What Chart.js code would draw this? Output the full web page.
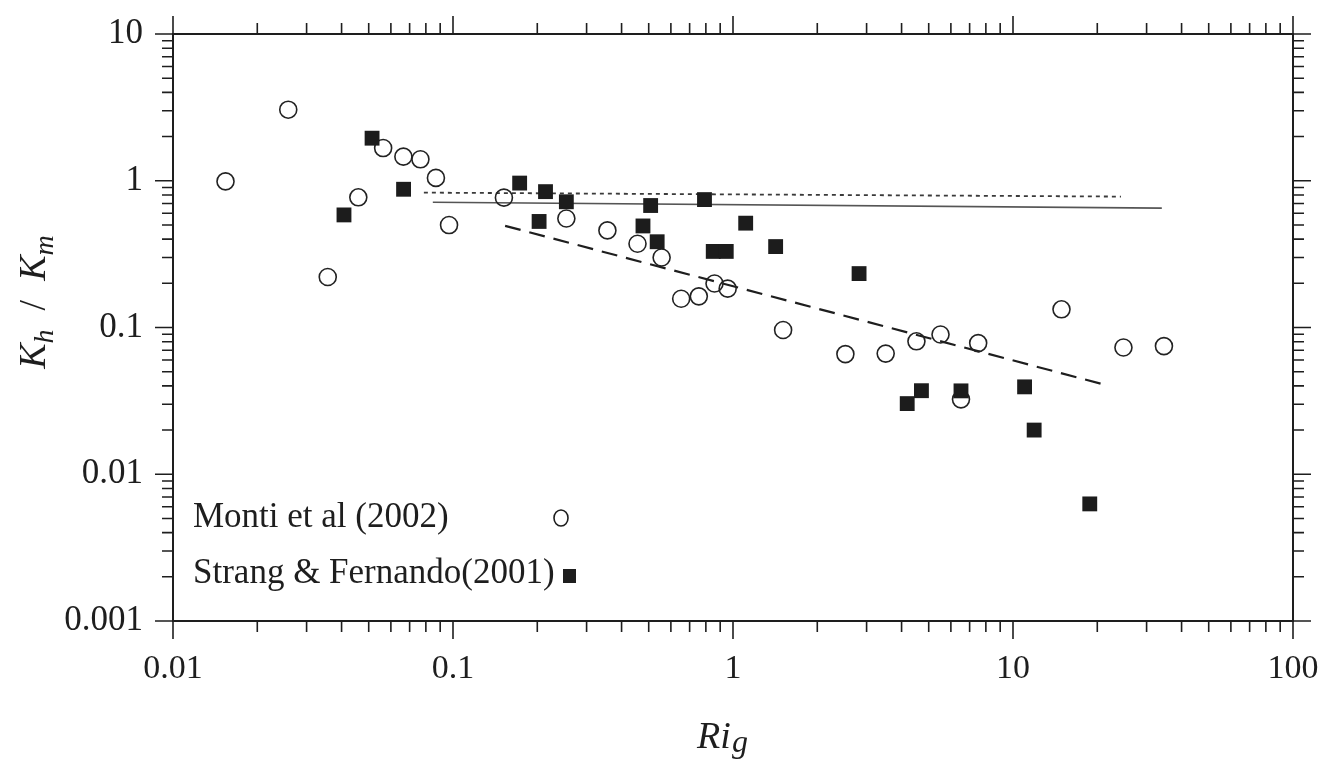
<!DOCTYPE html>
<html lang="en">
<head>
<meta charset="UTF-8">
<title>Kh/Km versus Rig</title>
<script src="https://cdn.jsdelivr.net/npm/chart.js@4.4.1/dist/chart.umd.min.js"></script>
<style>
    html, body { margin: 0; padding: 0; background: #fff; }
    #wrap { width: 1319px; height: 760px; }
</style>
</head>
<body>
<div id="wrap"><canvas id="chart" width="1319" height="760"></canvas></div>
<script>
// Monti et al (2002) - open circles
const montiRi = [0.0154, 0.0258, 0.0357, 0.0459, 0.0563, 0.0665, 0.0765, 0.0869, 0.0968, 0.152,
                 0.254, 0.356, 0.456, 0.556, 0.653, 0.755, 0.859, 0.957, 1.51, 2.52,
                 3.51, 4.52, 5.51, 7.51, 6.52, 14.9, 24.8, 34.6];
const montiK  = [0.99, 3.05, 0.221, 0.771, 1.67, 1.46, 1.40, 1.046, 0.499, 0.767,
                 0.553, 0.459, 0.372, 0.300, 0.157, 0.163, 0.1995, 0.184, 0.0962, 0.0659,
                 0.0664, 0.0805, 0.0896, 0.0783, 0.0324, 0.133, 0.0731, 0.0747];

// Strang & Fernando (2001) - filled squares
const strangRi = [0.0408, 0.0514, 0.0666, 0.173, 0.203, 0.214, 0.254, 0.477, 0.508, 0.536,
                  0.791, 0.850, 0.946, 1.11, 1.42, 2.82, 4.19, 4.71, 6.52, 11.0, 11.9, 18.8];
const strangK  = [0.585, 1.95, 0.875, 0.964, 0.528, 0.843, 0.719, 0.492, 0.678, 0.384,
                  0.744, 0.330, 0.330, 0.514, 0.356, 0.233, 0.0303, 0.0371, 0.0370, 0.0394, 0.0200, 0.00628];

// fitted lines (end points)
const dottedRi = [0.0787, 24.3];
const dottedK  = [0.830, 0.780];
const solidRi  = [0.0847, 34.0];
const solidK   = [0.714, 0.651];
const dashedRi = [0.1535, 20.6];
const dashedK  = [0.493, 0.0414];

// axis ticks
const xTickValues = [0.01, 0.1, 1, 10, 100];
const xTickLabels = ['0.01', '0.1', '1', '10', '100'];
const yTickValues = [0.001, 0.01, 0.1, 1, 10];
const yTickLabels = ['0.001', '0.01', '0.1', '1', '10'];

const serif = '"Liberation Serif", "Times New Roman", serif';
const ink = '#1e1e1e';

function pts(xs, ys) {
    return xs.map((x, i) => ({ x: x, y: ys[i] }));
}

// box around the plot plus outward log ticks on all four sides
const frame = {
    id: 'frame',
    afterDraw(chart) {
        const ctx = chart.ctx;
        const a = chart.chartArea;
        const sx = chart.scales.x, sy = chart.scales.y;
        ctx.save();
        ctx.strokeStyle = ink;
        ctx.lineWidth = 2;
        ctx.strokeRect(a.left, a.top, a.right - a.left, a.bottom - a.top);
        ctx.lineWidth = 1.6;
        ctx.beginPath();
        const decs = (s) => {
            const out = [];
            const lo = Math.round(Math.log10(s.min)), hi = Math.round(Math.log10(s.max));
            for (let e = lo; e <= hi; e++) {
                for (let m = 1; m <= 9; m++) {
                    const v = m * Math.pow(10, e);
                    if (v > s.max * 1.0001) break;
                    out.push({ v: v, len: m === 1 ? 18 : 11 });
                }
            }
            return out;
        };
        decs(sx).forEach(t => {
            const px = sx.getPixelForValue(t.v);
            ctx.moveTo(px, a.bottom); ctx.lineTo(px, a.bottom + t.len);
            ctx.moveTo(px, a.top); ctx.lineTo(px, a.top - t.len);
        });
        decs(sy).forEach(t => {
            const py = sy.getPixelForValue(t.v);
            ctx.moveTo(a.left, py); ctx.lineTo(a.left - t.len, py);
            ctx.moveTo(a.right, py); ctx.lineTo(a.right + t.len, py);
        });
        ctx.stroke();
        ctx.restore();
    }
};

// axis titles with subscripts and the in-plot legend
const labels = {
    id: 'labels',
    afterDraw(chart) {
        const ctx = chart.ctx;
        ctx.save();
        ctx.fillStyle = ink;
        ctx.strokeStyle = ink;

        // x title: Ri_g
        ctx.textBaseline = 'alphabetic';
        ctx.font = 'italic 38px ' + serif;
        const w1 = ctx.measureText('Ri').width;
        ctx.font = 'italic 32px ' + serif;
        const w2 = ctx.measureText('g').width;
        let x0 = 722 - (w1 + w2) / 2;
        ctx.font = 'italic 38px ' + serif;
        ctx.fillText('Ri', x0, 748);
        ctx.font = 'italic 32px ' + serif;
        ctx.fillText('g', x0 + w1 + 1, 752);

        // y title: K_h / K_m
        ctx.translate(35, 302);
        ctx.rotate(-Math.PI / 2);
        const parts = [
            { t: 'K', f: 'italic 38px ', dy: 0 },
            { t: 'h', f: 'italic 28px ', dy: 8 },
            { t: '  /  ', f: '38px ', dy: 0 },
            { t: 'K', f: 'italic 38px ', dy: 0 },
            { t: 'm', f: 'italic 28px ', dy: 8 }
        ];
        let total = 0;
        parts.forEach(p => { ctx.font = p.f + serif; p.w = ctx.measureText(p.t).width; total += p.w; });
        let cx = -total / 2;
        parts.forEach(p => {
            ctx.font = p.f + serif;
            ctx.fillText(p.t, cx, 10 + p.dy);
            cx += p.w;
        });
        ctx.setTransform(1, 0, 0, 1, 0, 0);

        // legend
        ctx.font = '35px ' + serif;
        ctx.textBaseline = 'middle';
        ctx.fillText('Monti et al (2002)', 193, 518);
        ctx.fillText('Strang & Fernando(2001)', 193, 574);
        ctx.lineWidth = 1.6;
        ctx.beginPath();
        ctx.ellipse(561, 518, 7, 8, 0, 0, Math.PI * 2);
        ctx.stroke();
        ctx.fillRect(563, 569, 13, 14);
        ctx.restore();
    }
};

new Chart(document.getElementById('chart'), {
    type: 'scatter',
    data: {
        datasets: [
            {
                label: 'Strang & Fernando(2001)',
                data: pts(strangRi, strangK),
                pointStyle: 'rect',
                pointRadius: 10.5,
                borderWidth: 0,
                backgroundColor: '#1c1c1c',
                borderColor: '#1c1c1c'
            },
            {
                label: 'Monti et al (2002)',
                data: pts(montiRi, montiK),
                pointStyle: 'circle',
                pointRadius: 8.5,
                borderWidth: 1.6,
                borderColor: '#222',
                backgroundColor: 'rgba(0,0,0,0)'
            },
            {
                label: 'dotted fit',
                data: pts(dottedRi, dottedK),
                showLine: true,
                pointRadius: 0,
                borderColor: '#3a3a3a',
                borderWidth: 1.8,
                borderDash: [4, 4]
            },
            {
                label: 'solid fit',
                data: pts(solidRi, solidK),
                showLine: true,
                pointRadius: 0,
                borderColor: '#555',
                borderWidth: 1.6
            },
            {
                label: 'dashed fit',
                data: pts(dashedRi, dashedK),
                showLine: true,
                pointRadius: 0,
                borderColor: '#1e1e1e',
                borderWidth: 2.2,
                borderDash: [16, 9]
            }
        ]
    },
    options: {
        responsive: false,
        animation: false,
        layout: { padding: { top: 34, right: 26, left: 0, bottom: 0 } },
        plugins: {
            legend: { display: false },
            tooltip: { enabled: false }
        },
        scales: {
            x: {
                type: 'logarithmic',
                min: 0.01,
                max: 100,
                grid: { display: false },
                border: { display: false },
                afterBuildTicks: s => { s.ticks = xTickValues.map(v => ({ value: v })); },
                afterFit: s => { s.height = 139; s.paddingLeft = 0; s.paddingRight = 0; },
                ticks: {
                    autoSkip: false,
                    maxRotation: 0,
                    padding: 20,
                    color: ink,
                    font: { family: serif, size: 34 },
                    callback: (v, i) => xTickLabels[i]
                }
            },
            y: {
                type: 'logarithmic',
                min: 0.001,
                max: 10,
                grid: { display: false },
                border: { display: false },
                afterBuildTicks: s => { s.ticks = yTickValues.map(v => ({ value: v })); },
                afterFit: s => { s.width = 173; s.paddingTop = 0; s.paddingBottom = 0; },
                ticks: {
                    autoSkip: false,
                    padding: 22,
                    color: ink,
                    font: { family: serif, size: 35 },
                    callback: (v, i) => yTickLabels[i]
                }
            }
        }
    },
    plugins: [frame, labels]
});
</script>
</body>
</html>
